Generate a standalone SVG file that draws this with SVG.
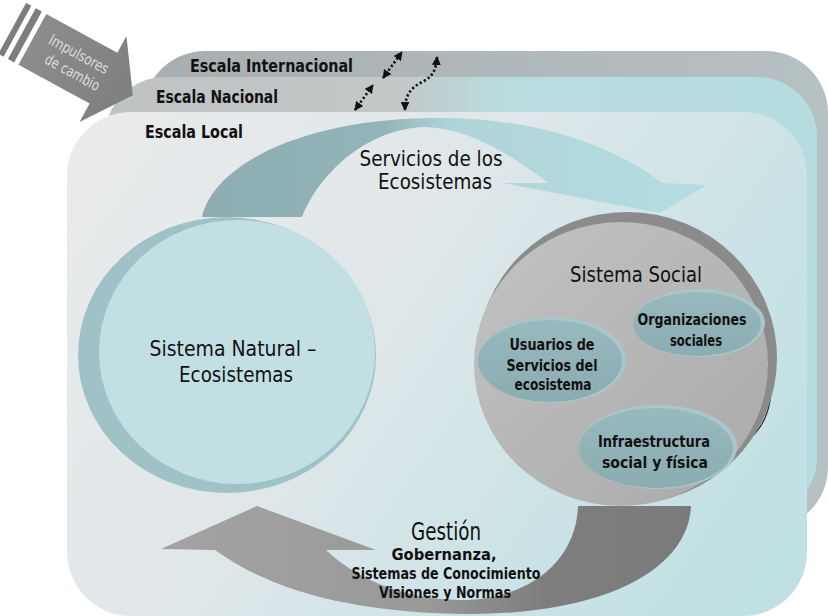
<svg xmlns="http://www.w3.org/2000/svg" width="828" height="616" viewBox="0 0 828 616">
  <style>
    .lbl { font-family: "DejaVu Sans Condensed", "DejaVu Sans", "Liberation Sans", sans-serif; fill: #111; }
    .scale { font-weight: bold; font-size: 17px; }
    .big { font-size: 22px; }
    .node { font-weight: bold; font-size: 15.5px; text-anchor: middle; }
    .mid { text-anchor: middle; }
    .sub { font-weight: bold; font-size: 15px; text-anchor: middle; }
    .dotted { fill: none; stroke: #111; stroke-width: 2.6; stroke-dasharray: 2.2 2.4; }
    .link { fill: none; stroke: #1a1a1a; stroke-width: 1.1; }
  </style>
  <defs>
    <linearGradient id="gIntl" x1="143" y1="0" x2="828" y2="0" gradientUnits="userSpaceOnUse">
      <stop offset="0" stop-color="#a8aeb0"/>
      <stop offset="1" stop-color="#b6c1c3"/>
    </linearGradient>
    <linearGradient id="gNat" x1="105" y1="0" x2="817" y2="0" gradientUnits="userSpaceOnUse">
      <stop offset="0" stop-color="#bfc2c3"/>
      <stop offset="0.42" stop-color="#c3c8c9"/>
      <stop offset="0.56" stop-color="#b9dcdf"/>
      <stop offset="1" stop-color="#b5dde0"/>
    </linearGradient>
    <linearGradient id="gLocal" x1="67" y1="112" x2="807" y2="616" gradientUnits="userSpaceOnUse">
      <stop offset="0" stop-color="#eaebec"/>
      <stop offset="0.4" stop-color="#e0e7e9"/>
      <stop offset="0.7" stop-color="#cbe3e6"/>
      <stop offset="1" stop-color="#bde0e3"/>
    </linearGradient>
    <linearGradient id="gServ" x1="200" y1="0" x2="710" y2="0" gradientUnits="userSpaceOnUse">
      <stop offset="0" stop-color="#8dadb2"/>
      <stop offset="0.36" stop-color="#93b4b9"/>
      <stop offset="0.5" stop-color="#b0d5d9"/>
      <stop offset="1" stop-color="#b4dde1"/>
    </linearGradient>
    <linearGradient id="gGest" x1="160" y1="0" x2="692" y2="0" gradientUnits="userSpaceOnUse">
      <stop offset="0" stop-color="#a3a3a3"/>
      <stop offset="0.5" stop-color="#999999"/>
      <stop offset="0.72" stop-color="#7e7e7e"/>
      <stop offset="1" stop-color="#7a7a7a"/>
    </linearGradient>
    <linearGradient id="gSocial" x1="0" y1="0" x2="1" y2="1">
      <stop offset="0" stop-color="#c3c3c3"/>
      <stop offset="1" stop-color="#a9a9a9"/>
    </linearGradient>
    <linearGradient id="gSub" x1="0" y1="0" x2="0" y2="1">
      <stop offset="0" stop-color="#98b9be"/>
      <stop offset="1" stop-color="#8aadb2"/>
    </linearGradient>
    <linearGradient id="gDriver" x1="0" y1="0" x2="1" y2="0">
      <stop offset="0" stop-color="#8c8c8c"/>
      <stop offset="1" stop-color="#7f7f7f"/>
    </linearGradient>
    <marker id="dotHead" viewBox="0 0 10 10" refX="9" refY="5" markerWidth="9" markerHeight="9" markerUnits="userSpaceOnUse" orient="auto-start-reverse">
      <path d="M0,0 L10,5 L0,10 z" fill="#111"/>
    </marker>
    <marker id="linkHead" viewBox="0 0 10 10" refX="9" refY="5" markerWidth="7" markerHeight="6" markerUnits="userSpaceOnUse" orient="auto-start-reverse">
      <path d="M0,0 L10,5 L0,10 z" fill="#1a1a1a"/>
    </marker>
  </defs>

  <rect width="828" height="616" fill="#ffffff"/>

  <!-- nested scale layers -->
  <g id="scale-international">
    <rect x="143" y="51" width="685" height="478" rx="62" fill="url(#gIntl)"/>
    <text class="lbl scale" x="190" y="72" textLength="163" lengthAdjust="spacingAndGlyphs">Escala Internacional</text>
  </g>
  <g id="scale-national">
    <rect x="105" y="77" width="712" height="440" rx="60" fill="url(#gNat)"/>
    <text class="lbl scale" x="156" y="103" textLength="122" lengthAdjust="spacingAndGlyphs">Escala Nacional</text>
  </g>
  <g id="scale-local">
    <rect x="67" y="112" width="740" height="504" rx="64" fill="url(#gLocal)"/>
    <text class="lbl scale" x="145" y="138" textLength="98" lengthAdjust="spacingAndGlyphs">Escala Local</text>
  </g>

  <!-- drivers of change -->
  <g id="drivers" transform="translate(103,79) rotate(28.6)">
    <rect x="-104" y="-30" width="6" height="58" fill="#7d7d7d"/>
    <rect x="-93" y="-30" width="7" height="58" fill="#7d7d7d"/>
    <path d="M-81,-30 L0,-30 L0,-49 L34,0 L0,49 L0,28 L-81,28 Z" fill="url(#gDriver)"/>
    <text class="lbl mid" x="-33" y="-5" font-size="15" style="fill:#dcdcdc" textLength="66" lengthAdjust="spacingAndGlyphs">Impulsores</text>
    <text class="lbl mid" x="-30" y="14" font-size="15" style="fill:#dcdcdc" textLength="60" lengthAdjust="spacingAndGlyphs">de cambio</text>
  </g>

  <!-- cycle flows -->
  <g id="connectors">
    <path id="flow-services" d="M202,217 C214,165 300,120 430,118 C540,116 620,150 662,183 L707,185 L660,213 L503,183 L548,183 C505,150 465,128 425,127 C372,128 322,168 302,217 Z" fill="url(#gServ)"/>
    <path id="flow-management" d="M691,506 C688,572 600,614 470,614 C360,614 272,592 215,550 L161,549 L257,506 L376,550 L326,550 C362,584 414,600 462,600 C522,600 576,566 578,506 Z" fill="url(#gGest)"/>

    <!-- cross-scale links -->
    <path class="dotted" d="M355,110 L373,85" marker-start="url(#dotHead)" marker-end="url(#dotHead)"/>
    <path class="dotted" d="M383,78 L402,52" marker-start="url(#dotHead)" marker-end="url(#dotHead)"/>
    <path class="dotted" d="M405,110 C405,92 414,86 424,81 C433,76 436,70 437,57" marker-start="url(#dotHead)" marker-end="url(#dotHead)"/>

    <!-- links inside the social system -->
    <path class="link" d="M553,318 C556,300 590,291 693,296" marker-start="url(#linkHead)" marker-end="url(#linkHead)"/>
    <path class="link" d="M763,333 C778,380 776,432 733,448" marker-start="url(#linkHead)" marker-end="url(#linkHead)"/>
    <path class="link" d="M552,404 C552,425 560,445 579,449" marker-start="url(#linkHead)" marker-end="url(#linkHead)"/>
  </g>

  <g id="natural-system">
    <ellipse cx="227" cy="355" rx="149" ry="138" fill="#9fc2c7"/>
    <ellipse cx="237" cy="352" rx="138" ry="132" fill="#c2e0e4"/>
    <text class="lbl big mid" x="233" y="356" font-size="23" textLength="167" lengthAdjust="spacingAndGlyphs">Sistema Natural –</text>
    <text class="lbl big mid" x="236" y="382" font-size="23" textLength="114" lengthAdjust="spacingAndGlyphs">Ecosistemas</text>
  </g>

  <text class="lbl big mid" x="431" y="166" textLength="143" lengthAdjust="spacingAndGlyphs">Servicios de los</text>
  <text class="lbl big mid" x="435" y="189" textLength="114" lengthAdjust="spacingAndGlyphs">Ecosistemas</text>

  <g id="social-system">
    <ellipse cx="627" cy="358" rx="150" ry="146" fill="#8b8b8b"/>
    <ellipse cx="621" cy="364" rx="147" ry="142" fill="url(#gSocial)"/>
    <text class="lbl big mid" x="636" y="282" textLength="132" lengthAdjust="spacingAndGlyphs">Sistema Social</text>
  </g>

  <g id="users">
    <ellipse cx="552" cy="360" rx="74" ry="43" fill="#a9c7cb"/>
    <ellipse cx="550" cy="361" rx="72" ry="41" fill="url(#gSub)"/>
    <text class="lbl node" x="552" y="350" textLength="85" lengthAdjust="spacingAndGlyphs">Usuarios de</text>
    <text class="lbl node" x="552" y="371" textLength="91" lengthAdjust="spacingAndGlyphs">Servicios del</text>
    <text class="lbl node" x="553" y="390" textLength="77" lengthAdjust="spacingAndGlyphs">ecosistema</text>
  </g>

  <g id="organizations">
    <ellipse cx="699" cy="323" rx="66" ry="34" fill="#a9c7cb"/>
    <ellipse cx="697" cy="324" rx="64" ry="32" fill="url(#gSub)"/>
    <text class="lbl node" x="692" y="325" textLength="109" lengthAdjust="spacingAndGlyphs">Organizaciones</text>
    <text class="lbl node" x="696" y="346" textLength="52" lengthAdjust="spacingAndGlyphs">sociales</text>
  </g>

  <g id="infrastructure">
    <ellipse cx="658" cy="447" rx="79" ry="42" fill="#a9c7cb"/>
    <ellipse cx="656" cy="448" rx="77" ry="40" fill="url(#gSub)"/>
    <text class="lbl node" x="654" y="447" textLength="112" lengthAdjust="spacingAndGlyphs">Infraestructura</text>
    <text class="lbl node" x="655" y="468" textLength="106" lengthAdjust="spacingAndGlyphs">social y física</text>
  </g>

  <g id="management-labels">
    <text class="lbl mid" x="446" y="540" font-size="25" textLength="70" lengthAdjust="spacingAndGlyphs">Gestión</text>
    <text class="lbl sub" x="444" y="560" textLength="105" lengthAdjust="spacingAndGlyphs">Gobernanza,</text>
    <text class="lbl sub" x="446" y="579" textLength="189" lengthAdjust="spacingAndGlyphs">Sistemas de Conocimiento</text>
    <text class="lbl sub" x="445" y="598" textLength="132" lengthAdjust="spacingAndGlyphs">Visiones y Normas</text>
  </g>
</svg>
